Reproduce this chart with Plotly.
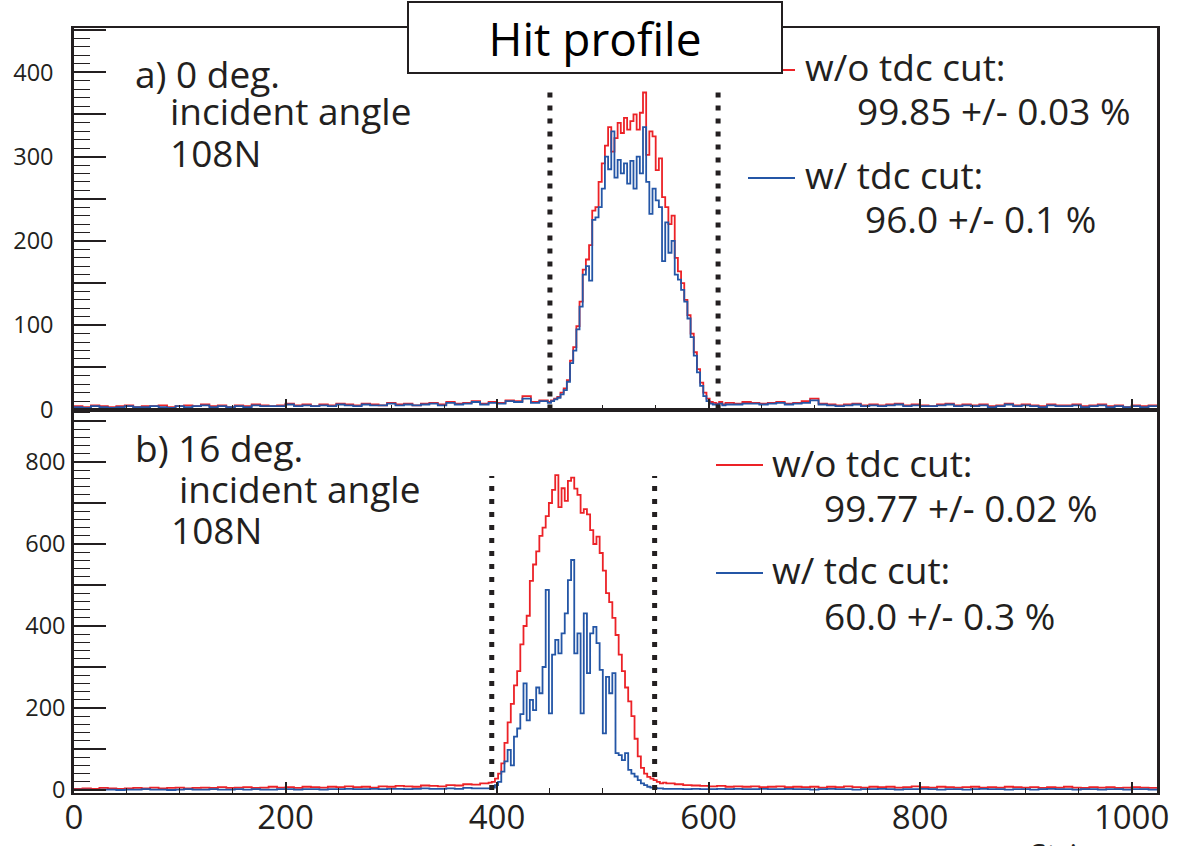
import numpy as np
import plotly.graph_objects as go

# ---- data (hit profile histograms) ----
# panel a) 0 deg : bins of 8 below 448, bins of 3 in 448-616, bins of 8 above 616
a_edges = [(0, 8), (448, 3), (616, 8)]
a_red_left = [4, 3, 5, 4, 3, 4, 5, 3, 4, 4, 5, 3, 4, 5, 4, 6, 4, 5, 3, 5, 4, 6, 5, 4, 5, 7, 5, 6,
              4, 6, 5, 7, 6, 5, 7, 6, 5, 8, 6, 7, 5, 7, 8, 6, 9, 7, 8, 10, 7, 9, 8, 11, 10, 16, 9, 11]
a_red_peak = [9, 11, 13, 15, 20, 25, 35, 58, 74, 99, 128, 166, 178, 195, 236, 240, 270, 292, 313, 335,
              306, 322, 340, 328, 346, 332, 342, 350, 332, 352, 376, 302, 330, 324, 284, 298, 252, 240,
              220, 230, 180, 164, 150, 130, 112, 90, 68, 48, 32, 20, 13, 9, 8, 7, 9, 6]
a_red_right = [8, 7, 9, 8, 7, 8, 9, 7, 8, 10, 13, 7, 6, 5, 6, 7, 5, 6, 5, 6, 7, 5, 6, 5, 4, 6,
               7, 5, 6, 5, 6, 4, 5, 7, 5, 6, 5, 4, 6, 5, 5, 6, 4, 5, 6, 4, 5, 3, 5, 4, 5]
a_blue_left = [3, 2, 4, 3, 2, 3, 4, 3, 3, 4, 3, 2, 4, 3, 4, 5, 3, 4, 3, 4, 3, 5, 4, 4, 4, 6, 4, 5,
               4, 5, 4, 6, 5, 4, 6, 5, 5, 7, 5, 6, 5, 6, 7, 5, 8, 6, 7, 9, 6, 8, 7, 10, 9, 13, 8, 10]
a_blue_peak = [8, 10, 12, 14, 18, 23, 33, 55, 70, 95, 122, 160, 170, 153, 225, 228, 240, 262, 300, 285,
               330, 275, 296, 280, 292, 268, 295, 262, 300, 280, 335, 270, 232, 262, 248, 240, 176, 222,
               186, 200, 160, 154, 142, 128, 108, 86, 64, 44, 28, 16, 10, 7, 6, 6, 7, 5]
a_blue_right = [6, 6, 7, 7, 6, 7, 8, 6, 7, 8, 11, 6, 5, 4, 5, 6, 4, 5, 4, 5, 6, 4, 5, 4, 4, 5,
                6, 4, 5, 4, 5, 3, 4, 6, 4, 5, 4, 3, 5, 4, 4, 5, 3, 4, 5, 3, 4, 3, 4, 3, 4]

# panel b) 16 deg : bins of 8 below 392, bins of 3 in 392-560, bins of 8 above 560
b_edges = [(0, 8), (392, 3), (560, 8)]
b_red_left = [3, 4, 3, 5, 4, 3, 4, 5, 4, 6, 4, 5, 6, 4, 5, 6, 5, 7, 5, 6, 7, 5, 6, 8, 6, 7, 5, 8,
              7, 6, 8, 7, 9, 7, 8, 6, 9, 8, 10, 9, 8, 11, 10, 9, 12, 11, 14, 13, 16]
b_red_peak = [18, 20, 28, 40, 65, 115, 165, 210, 255, 290, 355, 400, 425, 510, 550, 582, 620, 640,
              668, 700, 732, 768, 690, 736, 705, 754, 762, 735, 720, 676, 685, 672, 634, 600, 618,
              578, 535, 480, 458, 420, 378, 330, 290, 250, 216, 180, 125, 82, 54, 40, 32, 28, 24,
              20, 16, 18]
b_red_right = [16, 14, 12, 11, 10, 9, 10, 8, 9, 8, 9, 7, 8, 9, 7, 8, 7, 8, 6, 8, 7, 9, 7, 6, 8, 7,
               8, 6, 7, 9, 7, 6, 8, 7, 6, 7, 8, 6, 7, 6, 8, 7, 6, 7, 5, 7, 6, 8, 6, 5, 7, 6, 7, 5,
               6, 7, 6, 5]
b_blue_left = [1, 1, 0, 1, 1, 0, 1, 1, 2, 1, 1, 0, 1, 2, 1, 1, 2, 1, 1, 2, 1, 2, 1, 1, 2, 2, 1, 2,
               2, 1, 2, 2, 3, 2, 2, 3, 2, 3, 3, 2, 3, 4, 3, 3, 4, 3, 5, 4, 4]
b_blue_peak = [4, 6, 12, 20, 45, 70, 98, 60, 130, 150, 185, 260, 170, 220, 195, 250, 236, 300, 488,
               187, 330, 366, 333, 382, 431, 512, 561, 333, 382, 187, 431, 285, 382, 398, 358, 293,
               138, 276, 236, 285, 90, 85, 73, 90, 49, 40, 33, 24, 16, 12, 8, 6, 5, 4, 4, 3]
b_blue_right = [3, 3, 2, 3, 2, 2, 3, 2, 3, 2, 2, 3, 2, 2, 3, 2, 2, 1, 2, 3, 2, 2, 1, 2, 2, 3, 2, 1,
                2, 2, 3, 2, 1, 2, 2, 1, 2, 3, 2, 2, 1, 2, 2, 1, 2, 3, 2, 2, 1, 2, 2, 1, 2, 2, 1, 2,
                2, 1]

a_cuts = [450, 609]
a_cut_top = 376
b_cuts = [395, 549]
b_cut_top = 766

x_ticks = [0, 200, 400, 600, 800, 1000]
a_ticks = [0, 50, 100, 150, 200, 250, 300, 350, 400, 450]
a_ticktext = ["0", "", "100", "", "200", "", "300", "", "400", ""]
b_ticks = [0, 100, 200, 300, 400, 500, 600, 700, 800, 900]
b_ticktext = ["0", "", "200", "", "400", "", "600", "", "800", ""]

RED = "#ec2227"
BLUE = "#2456a6"
INK = "#231f20"
FONT = "Open Sans"

# plot area in pixels
L, R, T, B = 74, 1157, 28, 793
W, H = R - L, B - T


def px(p):
    return (p - L) / W


def py(p):
    return (B - p) / H


def hist_xy(edges, parts):
    xs, ys = [], []
    for (start, step), vals in zip(edges, parts):
        for i, v in enumerate(vals):
            xs.append(start + step * i)
            ys.append(v)
    xs.append(1024)
    ys.append(ys[-1])
    return xs, ys


fig = go.Figure()

for parts, color, xa, ya, edges in [
    ((a_red_left, a_red_peak, a_red_right), RED, "x", "y", a_edges),
    ((a_blue_left, a_blue_peak, a_blue_right), BLUE, "x", "y", a_edges),
    ((b_red_left, b_red_peak, b_red_right), RED, "x2", "y2", b_edges),
    ((b_blue_left, b_blue_peak, b_blue_right), BLUE, "x2", "y2", b_edges),
]:
    xs, ys = hist_xy(edges, parts)
    fig.add_trace(go.Scatter(x=xs, y=ys, mode="lines", xaxis=xa, yaxis=ya,
                             line=dict(color=color, width=1.8, shape="hv"),
                             showlegend=False, hoverinfo="skip"))

for cuts, top, xa, ya in [(a_cuts, a_cut_top, "x", "y"), (b_cuts, b_cut_top, "x2", "y2")]:
    for c in cuts:
        fig.add_trace(go.Scatter(x=[c, c], y=[0, top], mode="lines", xaxis=xa, yaxis=ya,
                                 line=dict(color=INK, width=5, dash="5px,8px"),
                                 showlegend=False, hoverinfo="skip"))

split = py(410)
xcommon = dict(range=[0, 1024], showgrid=False, zeroline=False, showline=True, mirror=True,
               linecolor=INK, linewidth=2, ticks="inside", tickvals=x_ticks, ticklen=11,
               tickcolor=INK, tickwidth=1.5,
               minor=dict(dtick=50, tick0=0, ticks="inside", ticklen=5, tickcolor=INK, tickwidth=1.2))
ycommon = dict(showgrid=False, zeroline=False, showline=True, mirror=True, linecolor=INK,
               linewidth=2.5, ticks="inside", ticklen=32, tickcolor=INK, tickwidth=1.5,
               tickfont=dict(family=FONT, size=23.5, color=INK))

fig.update_layout(
    width=1179, height=846,
    margin=dict(l=L, r=1179 - R, t=T, b=846 - B, autoexpand=False),
    paper_bgcolor="white", plot_bgcolor="white",
    xaxis=dict(**xcommon, anchor="y", domain=[0, 1], showticklabels=False),
    yaxis=dict(**ycommon, domain=[split, 1], range=[-0.5, 452.5], tickvals=a_ticks,
               ticktext=a_ticktext, ticklabelstandoff=13,
               minor=dict(dtick=10, tick0=0, ticks="inside", ticklen=16, tickcolor=INK, tickwidth=1.2)),
    xaxis2=dict(**xcommon, anchor="y2", domain=[0, 1], matches="x",
                tickfont=dict(family=FONT, size=33, color=INK), ticklabelstandoff=-6),
    yaxis2=dict(**ycommon, domain=[0, split], range=[-7.3, 926.8], tickvals=b_ticks,
                ticktext=b_ticktext, ticklabelstandoff=1,
                minor=dict(dtick=20, tick0=0, ticks="inside", ticklen=16, tickcolor=INK, tickwidth=1.2)),
)

# legend lines
for x0, x1, yy, color in [(748, 795, 70, RED), (748, 795, 178, BLUE),
                          (716, 763, 465, RED), (716, 763, 573, BLUE)]:
    fig.add_shape(type="line", xref="paper", yref="paper", x0=px(x0), x1=px(x1),
                  y0=py(yy), y1=py(yy), line=dict(color=color, width=2))

texts = [
    ("a) 0 deg.", 133, 73), ("incident angle", 168, 111), ("108N", 168, 152),
    ("b) 16 deg.", 133, 447), ("incident angle", 177, 488), ("108N", 169, 529),
    ("w/o tdc cut:", 803, 66), ("99.85 +/- 0.03 %", 855, 111),
    ("w/ tdc cut:", 803, 174), ("96.0 +/- 0.1 %", 863, 218),
    ("w/o tdc cut:", 770, 462), ("99.77 +/- 0.02 %", 822, 507),
    ("w/ tdc cut:", 770, 570), ("60.0 +/- 0.3 %", 822, 615),
]
for t, x0, y0 in texts:
    fig.add_annotation(text=t, xref="paper", yref="paper", x=px(x0), y=py(y0),
                       xanchor="left", yanchor="middle", showarrow=False,
                       font=dict(family=FONT, size=37, color=INK))

# title box
fig.add_annotation(text="Hit profile", xref="paper", yref="paper", x=px(595), y=py(37.5),
                   xanchor="center", yanchor="middle", showarrow=False,
                   width=370, height=67, bgcolor="white", bordercolor=INK, borderwidth=2,
                   font=dict(family=FONT, size=46, color="black"))

# axis title, mostly cut off at the bottom edge
fig.add_annotation(text="Strip", xref="paper", yref="paper", x=px(1062), y=py(831),
                   xanchor="center", yanchor="top", showarrow=False,
                   font=dict(family=FONT, size=30, color=INK))

fig.write_html("out.html", config={"displayModeBar": False},
               post_script="document.body.style.margin='0px';")
